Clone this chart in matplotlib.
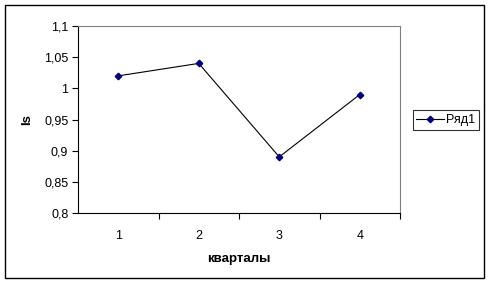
import matplotlib
matplotlib.use("Agg")
import matplotlib.pyplot as plt
from matplotlib.patches import Rectangle

quarters = [1, 2, 3, 4]
values = [1.02, 1.04, 0.89, 0.99]
y_ticks = [0.8, 0.85, 0.9, 0.95, 1.0, 1.05, 1.1]
y_tick_labels = ["0,8", "0,85", "0,9", "0,95", "1", "1,05", "1,1"]
series_name = "Ряд1"
x_label = "кварталы"
y_label = "Is"

plt.rcParams['font.family'] = ['Liberation Sans', 'DejaVu Sans']
W, H = 491, 284
fig = plt.figure(figsize=(W / 100, H / 100), dpi=100)
fig.patch.set_facecolor('white')

# outer frame
fig.add_artist(Rectangle((5 / W, 1 - 278 / H), (484 - 5) / W, (278 - 5) / H,
                         transform=fig.transFigure, fill=False, edgecolor='black', lw=1.0))

left, right, top, bottom = 78, 400, 26, 213
ax = fig.add_axes([left / W, 1 - bottom / H, (right - left) / W, (bottom - top) / H])
ax.plot(quarters, values, color='black', lw=0.8, marker='D', markersize=3.3,
        markerfacecolor='#000080', markeredgecolor='#000080', label=series_name)
ax.set_xlim(0.5, 4.5)
ax.set_ylim(0.8, 1.1)
ax.set_yticks(y_ticks)
ax.set_yticklabels(y_tick_labels, fontsize=9)
ax.set_xticks(quarters)
ax.set_xticklabels([str(q) for q in quarters], fontsize=9)
ax.tick_params(axis='x', length=0, pad=12)
ax.set_xticks([1.5, 2.5, 3.5, 4.5], minor=True)
ax.tick_params(axis='x', which='minor', length=4, direction='out', width=0.8)
ax.tick_params(axis='y', length=4, direction='out', width=0.8, pad=3)
for s in ['top', 'right']:
    ax.spines[s].set_color('#808080')
for s in ['left', 'bottom']:
    ax.spines[s].set_color('black')
ax.set_xlabel(x_label, fontsize=9.5, fontweight='bold', labelpad=8)
ax.set_ylabel(y_label, fontsize=9.5, fontweight='bold', labelpad=8)

leg = fig.legend(loc='center', bbox_to_anchor=(446 / W, 1 - 120 / H), fontsize=9,
                 frameon=True, fancybox=False, borderpad=0.3, handlelength=2.2,
                 handletextpad=0.2, borderaxespad=0)
leg.get_frame().set_edgecolor('black')
leg.get_frame().set_linewidth(0.8)

fig.savefig("out.png", dpi=100, facecolor='white')
